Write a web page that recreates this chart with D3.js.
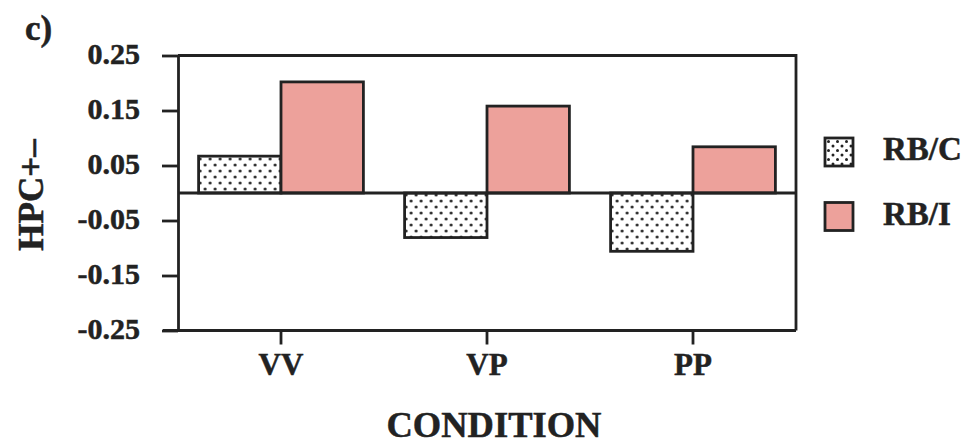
<!DOCTYPE html>
<html>
<head>
<meta charset="utf-8">
<script src="https://cdn.jsdelivr.net/npm/d3@7"></script>
<style>
  html, body { margin: 0; padding: 0; background: #fff; }
  svg text { font-family: "Liberation Serif", "Times New Roman", serif; font-weight: bold; fill: #222; stroke: #222; stroke-width: 0.5px; }
</style>
</head>
<body>
<svg id="chart" width="969" height="446"></svg>
<script>
// Data
const conditions = ["VV", "VP", "PP"];
const seriesNames = ["RB/C", "RB/I"];
const rbC = [0.067, -0.081, -0.106];
const rbI = [0.202, 0.158, 0.084];
const yTicks = [0.25, 0.15, 0.05, -0.05, -0.15, -0.25];
const yTickLabels = ["0.25", "0.15", "0.05", "-0.05", "-0.15", "-0.25"];

const svg = d3.select("#chart");
const ink = "#222";
const pink = "#eda19b";
const lw = 2.8;

const margin = { left: 178, right: 173, top: 55.5, bottom: 115.5 };
const W = 969, H = 446;
const x0 = margin.left, x1 = W - margin.right;
const y0 = margin.top, y1 = H - margin.bottom;

// Dotted fill for RB/C
const defs = svg.append("defs");
const pat = defs.append("pattern")
  .attr("id", "dots").attr("patternUnits", "userSpaceOnUse")
  .attr("width", 10).attr("height", 12)
  .attr("x", x0 + 1).attr("y", 0);
pat.append("rect").attr("width", 10).attr("height", 12).attr("fill", "#fff");
pat.append("circle").attr("cx", 2.5).attr("cy", 3).attr("r", 1.5).attr("fill", ink);
pat.append("circle").attr("cx", 7.5).attr("cy", 9).attr("r", 1.5).attr("fill", ink);

const pat2 = defs.append("pattern")
  .attr("id", "dotsLegend").attr("patternUnits", "userSpaceOnUse")
  .attr("width", 9).attr("height", 9)
  .attr("x", 826).attr("y", 139);
pat2.append("rect").attr("width", 9).attr("height", 9).attr("fill", "#fff");
pat2.append("circle").attr("cx", 2.5).attr("cy", 2.5).attr("r", 1.5).attr("fill", ink);
pat2.append("circle").attr("cx", 7).attr("cy", 7).attr("r", 1.5).attr("fill", ink);

const fills = { "RB/C": "url(#dots)", "RB/I": pink };

// Scales
const x = d3.scaleBand().domain(conditions).range([x0, x1])
  .paddingInner(0.2).paddingOuter(0.1);
const xs = d3.scaleBand().domain(seriesNames).range([0, x.bandwidth()]).padding(0);
const y = d3.scaleLinear().domain([-0.25, 0.25]).range([y1, y0]);

const rows = conditions.map((c, i) => ({ c, vals: [
  { s: "RB/C", v: rbC[i] }, { s: "RB/I", v: rbI[i] }
]}));

// Bars
const g = svg.append("g");
g.selectAll("g.grp").data(rows).join("g")
  .attr("transform", d => `translate(${x(d.c)},0)`)
  .selectAll("rect").data(d => d.vals).join("rect")
  .attr("x", d => xs(d.s))
  .attr("width", xs.bandwidth())
  .attr("y", d => y(Math.max(0, d.v)))
  .attr("height", d => Math.abs(y(d.v) - y(0)))
  .attr("fill", d => fills[d.s])
  .attr("stroke", ink).attr("stroke-width", lw);

// Zero line
svg.append("line")
  .attr("x1", x0).attr("x2", x1).attr("y1", y(0)).attr("y2", y(0))
  .attr("stroke", ink).attr("stroke-width", lw);

// Frame (top and right)
svg.append("path")
  .attr("d", `M${x0},${y0}H${x1}V${y1}`)
  .attr("fill", "none").attr("stroke", ink).attr("stroke-width", lw);

// Y axis
const yAxis = d3.axisLeft(y).tickValues(yTicks)
  .tickFormat((d, i) => yTickLabels[i]).tickSize(16).tickPadding(22).tickSizeOuter(0);
const ya = svg.append("g").attr("transform", `translate(${x0},0)`).call(yAxis);
ya.select(".domain").attr("stroke", ink).attr("stroke-width", lw);
ya.selectAll(".tick line").attr("stroke", ink).attr("stroke-width", lw);
ya.selectAll(".tick text").attr("font-size", 30).attr("dy", "0.28em")
  .style("font-family", '"Liberation Serif", serif').style("font-weight", "bold").attr("fill", ink);

// X axis
const xAxis = d3.axisBottom(x).tickSize(14).tickPadding(10).tickSizeOuter(0);
const xa = svg.append("g").attr("transform", `translate(0,${y1})`).call(xAxis);
xa.select(".domain").attr("stroke", ink).attr("stroke-width", lw)
  .attr("d", `M${x0 - 15},0H${x1}`);
xa.selectAll(".tick line").attr("stroke", ink).attr("stroke-width", lw);
xa.selectAll(".tick text").attr("font-size", 31).attr("dy", "0.65em")
  .style("font-family", '"Liberation Serif", serif').style("font-weight", "bold").attr("fill", ink);

// Axis titles
svg.append("text").attr("x", 494).attr("y", 437).attr("text-anchor", "middle")
  .attr("font-size", 36.5).text("CONDITION");
svg.append("text")
  .attr("transform", "translate(43,195) rotate(-90)")
  .attr("text-anchor", "middle").attr("font-size", 35).text("HPC+–");

// Panel label
svg.append("text").attr("x", 25).attr("y", 40).attr("font-size", 35).text("c)");

// Legend
const legY = [152, 216.5];
const leg = svg.append("g");
seriesNames.forEach((s, i) => {
  leg.append("rect").attr("x", 825).attr("y", legY[i] - 14).attr("width", 28).attr("height", 28)
    .attr("fill", i === 0 ? "url(#dotsLegend)" : pink)
    .attr("stroke", ink).attr("stroke-width", lw);
  leg.append("text").attr("x", 883).attr("y", legY[i] + 8).attr("font-size", 33).text(s);
});
</script>
</body>
</html>
